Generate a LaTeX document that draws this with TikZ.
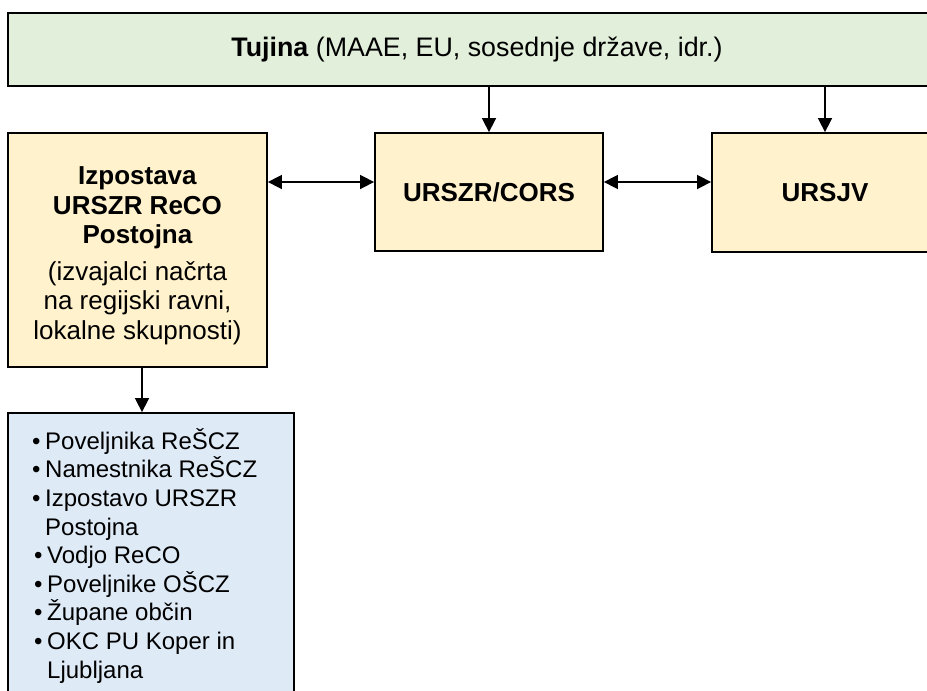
\documentclass[tikz,border=0pt]{standalone}
\usepackage{fontspec}
\setmainfont{Liberation Sans}
\usetikzlibrary{arrows.meta}
\definecolor{tgreen}{HTML}{E2EFDA}
\definecolor{tyellow}{HTML}{FFF2CC}
\definecolor{tblue}{HTML}{DEEAF6}
\begin{document}
\begin{tikzpicture}[x=1pt,y=-1pt,
  box/.style={draw=black, line width=1.8pt, inner sep=0pt, align=center},
  arr/.style={line width=1.6pt, -{Triangle[length=14pt,width=14pt]}},
  dbl/.style={line width=1.6pt, {Triangle[length=14pt,width=14pt]}-{Triangle[length=14pt,width=14pt]}},
  big/.style={font=\fontsize{26}{29.5}\selectfont}]
\useasboundingbox (0,0) rectangle (927,691);
\clip (0,0) rectangle (927,691);
\node[box, font=\fontsize{26.8}{30}\selectfont, fill=tgreen, minimum width=938pt, minimum height=73pt] (tujina) at (477,49.5)
  {\textbf{Tujina} (MAAE, EU, sosednje države, idr.)};
\node[box, big, fill=tyellow, minimum width=259pt, minimum height=234pt] (izp) at (137.5,250)
  {\rule{0pt}{29pt}\textbf{Izpostava}\\\textbf{URSZR ReCO}\\\textbf{Postojna}\\[7pt](izvajalci načrta\\na regijski ravni,\\lokalne skupnosti)};
\node[box, big, fill=tyellow, minimum width=228pt, minimum height=118pt] (cors) at (489,192)
  {\textbf{URSZR/CORS}};
\node[box, big, fill=tyellow, minimum width=226pt, minimum height=119pt] (ursjv) at (825,192.5)
  {\textbf{URSJV}};
\node[box, fill=tblue, minimum width=286pt, minimum height=300pt] (list) at (151,563) {};
\node[anchor=north west, align=left, inner sep=0pt, font=\fontsize{24}{28.6}\selectfont] (listtxt) at (32,425)
  {\rule{0pt}{24pt}\makebox[13pt][l]{•}Poveljnika ReŠCZ\\
   \makebox[13pt][l]{•}Namestnika ReŠCZ\\
   \makebox[13pt][l]{•}Izpostavo URSZR\\
   \hspace*{13pt}Postojna\\
   \hspace*{2pt}\makebox[13pt][l]{•}Vodjo ReCO\\
   \hspace*{2pt}\makebox[13pt][l]{•}Poveljnike OŠCZ\\
   \hspace*{2pt}\makebox[13pt][l]{•}Župane občin\\
   \hspace*{2pt}\makebox[13pt][l]{•}OKC PU Koper in\\
   \hspace*{15pt}Ljubljana};
\draw[arr] (tujina.south -| cors.north) -- (cors.north);
\draw[arr] (tujina.south -| ursjv.north) -- (ursjv.north);
\draw[dbl] ([yshift=10pt]cors.west -| izp.east) -- ([yshift=10pt]cors.west);
\draw[dbl] ([yshift=10pt]cors.east) -- ([yshift=10pt]cors.east -| ursjv.west);
\draw[arr] ([xshift=4.5pt]izp.south) -- ([xshift=4.5pt]izp.south |- list.north);
\end{tikzpicture}
\end{document}
